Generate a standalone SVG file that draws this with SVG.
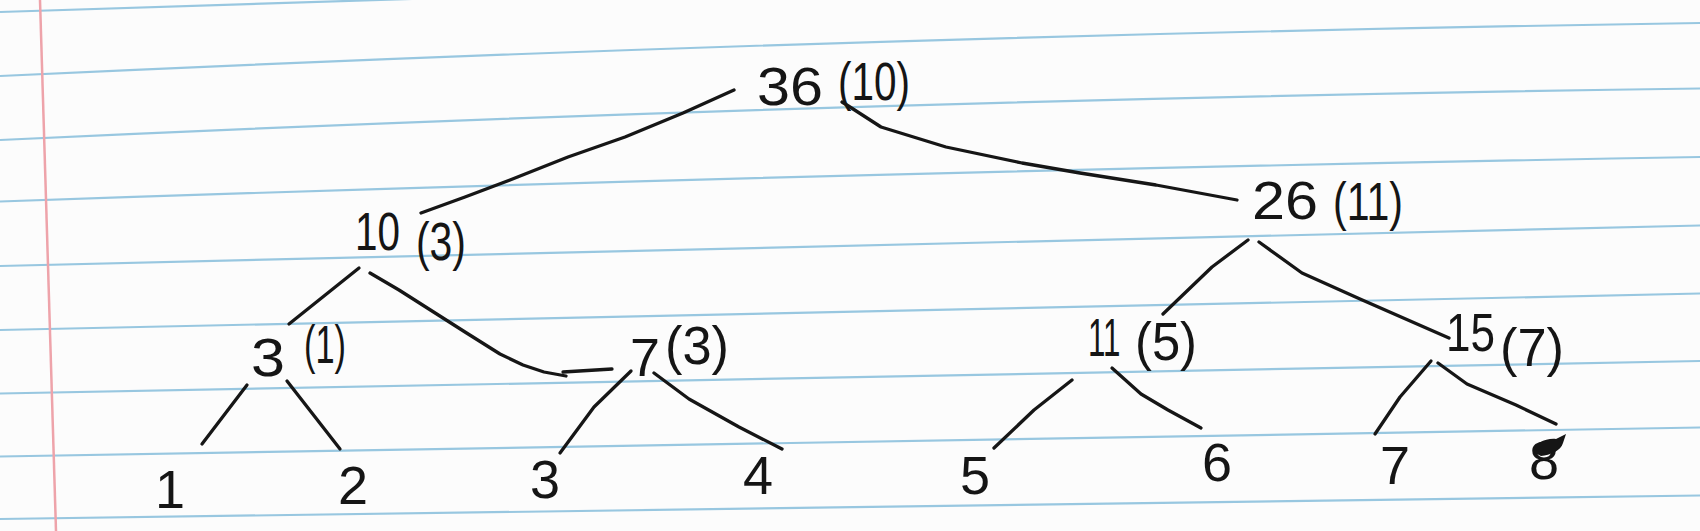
<svg xmlns="http://www.w3.org/2000/svg" width="1700" height="531" viewBox="0 0 1700 531">
<style>
.rule{fill:none;stroke:#98c7e0;stroke-width:2.2}
.margin{fill:none;stroke:#eea3aa;stroke-width:2.5}
.pen{fill:none;stroke:#161616;stroke-width:3.3;stroke-linecap:round;stroke-linejoin:round}
.t{font-family:"Liberation Sans",Arial,sans-serif;font-size:54px;fill:#151515}
.leaf{text-anchor:middle}
</style>
<rect width="1700" height="531" fill="#fcfcfc"/>
<g id="paper">
<path class="rule" d="M0,12 L850,-15"/>
<path class="rule" d="M0,76 Q850,36 1700,23"/>
<path class="rule" d="M0,140 Q850,100 1700,88.5"/>
<path class="rule" d="M0,201.5 Q850,172 1700,157"/>
<path class="rule" d="M0,266 Q850,242 1700,225.5"/>
<path class="rule" d="M0,330 Q850,310 1700,293.5"/>
<path class="rule" d="M0,393.5 Q850,377 1700,361"/>
<path class="rule" d="M0,456.5 Q850,441 1700,427.5"/>
<path class="rule" d="M0,519 Q850,505 1700,495.5"/>
<path class="margin" d="M40,0 L56,531"/>
</g>
<g id="connectors" class="pen">
<path d="M734,90 L683,113 L625,137 L568,157 L510,180 L465,197 L421,213"/>
<path d="M842,102 L850,107 L881,127 L946,147 L1022,163 L1080,173 L1156,185 L1237,200"/>
<path d="M359,268 L289,324"/>
<path d="M370,273 L399,290 L432,311 L465,332 L500,354 L523,365 L544,372 L566,376 M563,372 L612,369"/>
<path d="M247,385 L202,444"/>
<path d="M287,381 L340,449"/>
<path d="M631,371 L594,407 L560,453"/>
<path d="M654,373 L689,399 L739,427 L782,449"/>
<path d="M1248,240 L1212,267 L1163,314"/>
<path d="M1259,242 L1302,273 L1360,299 L1449,338"/>
<path d="M1072,380 L1034,410 L994,448"/>
<path d="M1112,368 L1141,394 L1168,410 L1201,428"/>
<path d="M1431,361 L1400,397 L1375,434"/>
<path d="M1438,363 L1467,384 L1516,405 L1556,424"/>
</g>
<g id="node-36">
<text class="t" x="757" y="105" font-size="52" textLength="66" lengthAdjust="spacingAndGlyphs">36</text>
<text class="t" x="838" y="100" font-size="58" textLength="72" lengthAdjust="spacingAndGlyphs">(10)</text>
</g>
<g id="node-10">
<text class="t" x="355" y="250" font-size="56" textLength="45" lengthAdjust="spacingAndGlyphs">10</text>
<text class="t" x="416" y="260" font-size="46" textLength="50" lengthAdjust="spacingAndGlyphs">(3)</text>
</g>
<g id="node-26">
<text class="t" x="1252" y="219" font-size="54" textLength="66" lengthAdjust="spacingAndGlyphs">26</text>
<text class="t" x="1333" y="220" font-size="62" textLength="70" lengthAdjust="spacingAndGlyphs">(11)</text>
</g>
<g id="node-3">
<text class="t" x="251" y="376" font-size="54" textLength="34" lengthAdjust="spacingAndGlyphs">3</text>
<text class="t" x="304" y="363" font-size="44" textLength="42" lengthAdjust="spacingAndGlyphs">(1)</text>
</g>
<g id="node-7">
<text class="t" x="630" y="376" font-size="54" textLength="30" lengthAdjust="spacingAndGlyphs">7</text>
<text class="t" x="665" y="364" font-size="62" textLength="64" lengthAdjust="spacingAndGlyphs">(3)</text>
</g>
<g id="node-11">
<text class="t" transform="translate(1088,356) scale(0.58,1)" font-size="50">11</text>
<text class="t" x="1135" y="360" font-size="54" textLength="62" lengthAdjust="spacingAndGlyphs">(5)</text>
</g>
<g id="node-15">
<text class="t" x="1446" y="351" font-size="54" textLength="49" lengthAdjust="spacingAndGlyphs">15</text>
<text class="t" x="1500" y="366" font-size="68" textLength="64" lengthAdjust="spacingAndGlyphs">(7)</text>
</g>
<g id="leaf-1"><text class="t leaf" x="170" y="508">1</text></g>
<g id="leaf-2"><text class="t leaf" x="353" y="504">2</text></g>
<g id="leaf-3"><text class="t leaf" x="545" y="498">3</text></g>
<g id="leaf-4"><text class="t leaf" x="758" y="494">4</text></g>
<g id="leaf-5"><text class="t leaf" x="975" y="494">5</text></g>
<g id="leaf-6"><text class="t leaf" x="1217" y="481">6</text></g>
<g id="leaf-7"><text class="t leaf" x="1395" y="484">7</text></g>
<g id="leaf-8"><text class="t leaf" x="1544" y="479">8</text>
<path d="M1533,452 C1534,443 1546,438 1556,439 L1566,434 L1563,443 C1561,451 1550,455 1541,456 Z" fill="#151515"/>
</g>
</svg>
